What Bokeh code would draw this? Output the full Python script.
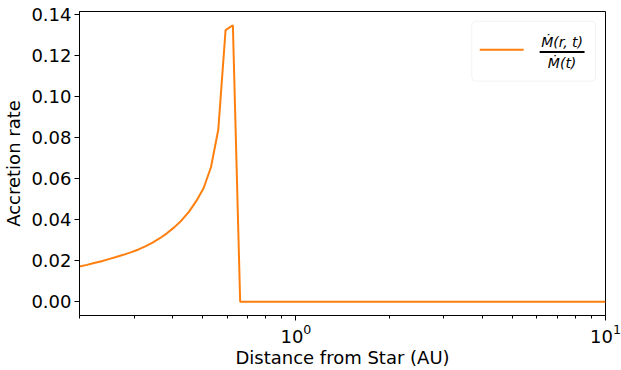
import numpy as np
from bokeh.plotting import figure
from bokeh.models import (FixedTicker, PrintfTickFormatter, LogTickFormatter,
                          BoxAnnotation, Label, Range1d)
from bokeh.embed import file_html
from bokeh.resources import INLINE

# ---- data ----
distance_au = [0.2000, 0.2113, 0.2230, 0.2355, 0.2486, 0.2625, 0.2771, 0.2926,
               0.3089, 0.3262, 0.3444, 0.3636, 0.3839, 0.4053, 0.4279, 0.4518,
               0.4770, 0.5036, 0.5317, 0.5614, 0.5927, 0.6258, 0.6607, 10.0]
accretion_rate = [0.0172, 0.0180, 0.0189, 0.0198, 0.0208, 0.0218, 0.0229, 0.0241,
                  0.0254, 0.0270, 0.0289, 0.0310, 0.0335, 0.0364, 0.0398, 0.0440,
                  0.0492, 0.0555, 0.0656, 0.0839, 0.1325, 0.1349, 0.0, 0.0]

y_ticks = [0.0, 0.02, 0.04, 0.06, 0.08, 0.10, 0.12, 0.14]
x_major = [1, 10]
x_minor = [0.2, 0.3, 0.4, 0.5, 0.6, 0.7, 0.8, 0.9, 2, 3, 4, 5, 6, 7, 8, 9]

x_lo, x_hi = 0.2, 10.0
y_lo, y_hi = -0.0067, 0.1416

FONT = "DejaVu Sans"
ORANGE = "#ff7f0e"

p = figure(width=621, height=370, x_axis_type="log",
           x_range=Range1d(x_lo, x_hi), y_range=Range1d(y_lo, y_hi),
           output_backend="svg", toolbar_location=None,
           min_border_left=78, min_border_right=16,
           min_border_top=11, min_border_bottom=49)
p.background_fill_color = "white"
p.border_fill_color = "white"
p.outline_line_color = "black"
p.outline_line_width = 1
p.grid.visible = False

p.line(distance_au, accretion_rate, line_color=ORANGE, line_width=2)

# axes
p.xaxis.ticker = FixedTicker(ticks=x_major, minor_ticks=x_minor)
p.xaxis.formatter = LogTickFormatter()
p.yaxis.ticker = FixedTicker(ticks=y_ticks, minor_ticks=[])
p.yaxis.formatter = PrintfTickFormatter(format="%.2f")

for ax in (p.xaxis[0], p.yaxis[0]):
    ax.axis_line_color = "black"
    ax.major_tick_line_color = "black"
    ax.minor_tick_line_color = "black"
    ax.major_tick_in = 0
    ax.major_tick_out = 5
    ax.minor_tick_in = 0
    ax.minor_tick_out = 3
    ax.major_label_text_font = FONT
    ax.major_label_text_font_size = "18px"
    ax.major_label_text_color = "black"
    ax.axis_label_text_font = FONT
    ax.axis_label_text_font_size = "18px"
    ax.axis_label_text_font_style = "normal"
    ax.axis_label_text_color = "black"
    ax.major_label_standoff = 3

p.xaxis.axis_label = "Distance from Star (AU)"
p.yaxis.axis_label = "Accretion rate"
p.xaxis.axis_label_standoff = 1
p.yaxis.axis_label_standoff = 4


# ---- legend (drawn manually to show a fraction label) ----
def fx(px):
    # pixel column -> data x on the log axis (frame 78..605)
    return 10 ** (np.log10(x_lo) + (px - 78) / (605 - 78) * (np.log10(x_hi) - np.log10(x_lo)))


def fy(py):
    # pixel row -> data y (frame 11..321)
    return y_hi - (py - 11) / (321 - 11) * (y_hi - y_lo)


p.add_layout(BoxAnnotation(left=fx(471), right=fx(595), top=fy(21), bottom=fy(82),
                           fill_color="white", fill_alpha=0.8, level="underlay",
                           line_color="#d6d6d6", line_width=1, border_radius=4))
p.line([fx(479), fx(523)], [fy(50), fy(50)], line_color=ORANGE, line_width=2)
p.line([fx(539), fx(584)], [fy(52.3), fy(52.3)], line_color="black", line_width=1.8)
p.add_layout(Label(x=fx(561.5), y=fy(42.5), text="M\u0307(r, t)",
                   text_font=FONT, text_font_size="14px", text_font_style="italic",
                   text_align="center", text_baseline="middle", text_color="black"))
p.add_layout(Label(x=fx(561.5), y=fy(63.5), text="M\u0307(t)",
                   text_font=FONT, text_font_size="14px", text_font_style="italic",
                   text_align="center", text_baseline="middle", text_color="black"))

open("out.html", "w").write(file_html(p, INLINE))
